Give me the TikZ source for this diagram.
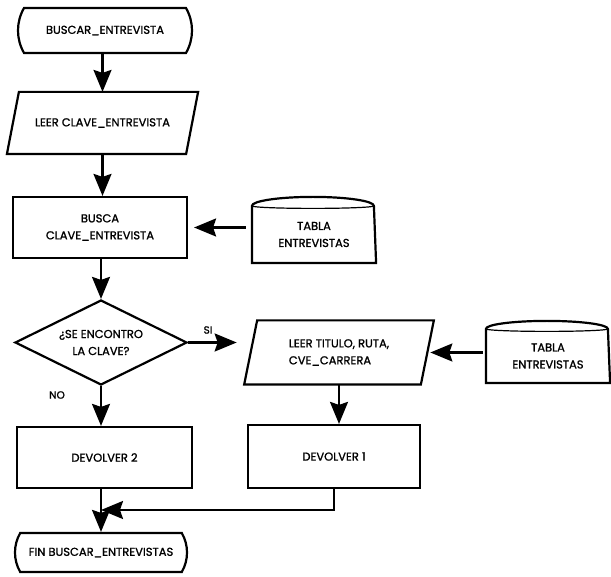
\documentclass[tikz,border=0pt]{standalone}
\usepackage{fontspec}
\setmainfont{Poppins}[FakeBold=1.2]
\usetikzlibrary{arrows.meta,shapes.geometric,shapes.misc}
\begin{document}
\begin{tikzpicture}[x=1pt,y=-1pt,line width=2.2pt,
  every node/.style={font=\fontsize{11.5}{17}\selectfont, align=center, inner sep=0pt},
  term/.style={draw, rounded rectangle, rounded rectangle arc length=60},
  proc/.style={draw, rectangle},
  dec/.style={draw, diamond, aspect=2},
  iobox/.style={rectangle},
  store/.style={rectangle},
  lbl/.style={font=\fontsize{10.5}{12}\selectfont},
  arr/.style={-{Stealth[length=22pt,width=18pt,inset=3pt]}}]
\useasboundingbox (0,0) rectangle (611,577);

% nodes
\node[term, minimum width=174pt, minimum height=45pt] (start) at (105,30.5) {BUSCAR\_ENTREVISTA};
\node[iobox, minimum width=177pt, minimum height=60pt] (p1) at (102.5,123) {LEER CLAVE\_ENTREVISTA};
\node[proc, minimum width=174pt, minimum height=61pt] (busca) at (100,227.5) {BUSCA\\CLAVE\_ENTREVISTA};
\node[store, minimum width=122pt, minimum height=55pt] (c1) at (314,234.5) {TABLA\\ENTREVISTAS};
\node[dec, minimum width=172pt, minimum height=85pt] (dec) at (101,342.5) {¿SE ENCONTRO\\LA CLAVE?};
\node[iobox, align=left, minimum width=174.5pt, minimum height=62pt] (p2) at (339,352.5) {LEER TITULO, RUTA,\\CVE\_CARRERA};
\node[store, minimum width=122pt, minimum height=52pt] (c2) at (548,356) {TABLA\\ENTREVISTAS};
\node[proc, minimum width=175pt, minimum height=61pt] (dev2) at (104.5,457.5) {DEVOLVER 2};
\node[proc, minimum width=172pt, minimum height=63pt] (dev1) at (334,456.5) {DEVOLVER 1};
\node[term, minimum width=172pt, minimum height=39pt] (fin) at (101,552.5) {FIN BUSCAR\_ENTREVISTAS};
\node[lbl] (si) at (208,330) {SI};
\node[lbl] (no) at (57,395) {NO};
\coordinate (join) at (100,510);

% parallelogram outlines
\draw ([xshift=-6pt]p1.south west) -- ([xshift=6pt]p1.north west) -- ([xshift=6pt]p1.north east) -- ([xshift=-6pt]p1.south east) -- cycle;
\draw ([xshift=-6.5pt]p2.south west) -- ([xshift=6.5pt]p2.north west) -- ([xshift=6.5pt]p2.north east) -- ([xshift=-6.5pt]p2.south east) -- cycle;

% data store outlines
\draw (c1.south west) -- (c1.north west) arc[start angle=180, end angle=0, x radius=61pt, y radius=9pt] -- (c1.south east) -- cycle;
\draw[line width=1.2pt] (c1.north west) arc[start angle=180, end angle=360, x radius=61pt, y radius=2.5pt];
\draw (c2.south west) -- (c2.north west) arc[start angle=180, end angle=0, x radius=61pt, y radius=8pt] -- (c2.south east) -- cycle;
\draw[line width=1.2pt] (c2.north west) arc[start angle=180, end angle=360, x radius=61pt, y radius=2.5pt];

% connectors
\draw[arr] (start.south -| p1.north) -- (p1.north);
\draw[arr] (p1.south) -- (p1.south |- busca.north);
\draw[arr, shorten <=6pt, shorten >=6pt] (c1.west |- busca.east) -- (busca.east);
\draw[arr] (busca.south -| dec.north) -- (dec.north);
\draw[arr, shorten >=14pt] (dec.east) -- (dec.east -| p2.west);
\draw[arr] (dec.south) -- (dec.south |- dev2.north);
\draw[arr, shorten <=3pt, shorten >=3pt] (c2.west |- p2.east) -- (p2.east);
\draw[arr] (p2.south) -- (p2.south |- dev1.north);
\draw[arr] (dev2.south -| fin.north) -- (fin.north);
\draw[arr, shorten >=1pt] (dev1.south) |- (join);
\end{tikzpicture}
\end{document}
